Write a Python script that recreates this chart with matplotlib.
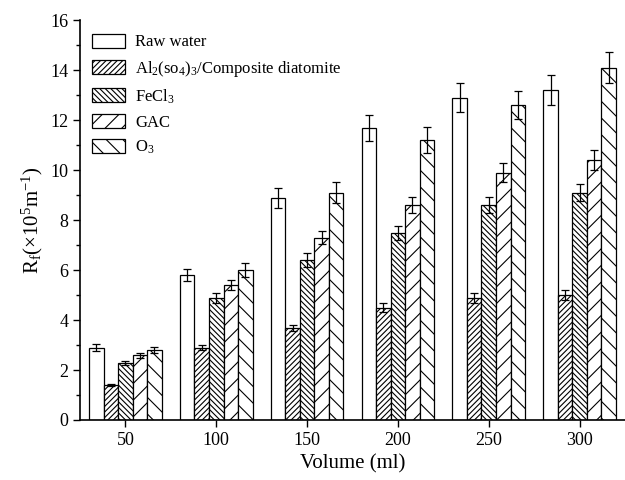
import numpy as np
import matplotlib
matplotlib.use('Agg')
import matplotlib.pyplot as plt
from matplotlib.ticker import MultipleLocator

plt.rcParams['font.family'] = ['Liberation Serif', 'DejaVu Serif']
plt.rcParams['mathtext.fontset'] = 'custom'
plt.rcParams['mathtext.rm'] = 'Liberation Serif'
plt.rcParams['mathtext.it'] = 'Liberation Serif:italic'
plt.rcParams['hatch.linewidth'] = 0.8

volumes = ['50', '100', '150', '200', '250', '300']
series = ['Raw water', 'Al$_2$(so$_4$)$_3$/Composite diatomite', 'FeCl$_3$', 'GAC', 'O$_3$']

raw_water = [2.9, 5.8, 8.9, 11.7, 12.9, 13.2]
al_diatomite = [1.4, 2.9, 3.7, 4.5, 4.9, 5.0]
fecl3 = [2.3, 4.9, 6.4, 7.5, 8.6, 9.1]
gac = [2.6, 5.4, 7.3, 8.6, 9.9, 10.4]
o3 = [2.8, 6.0, 9.1, 11.2, 12.6, 14.1]

raw_err = [0.13, 0.25, 0.40, 0.52, 0.58, 0.60]
al_err = [0.05, 0.10, 0.12, 0.17, 0.20, 0.19]
fecl3_err = [0.08, 0.20, 0.28, 0.28, 0.33, 0.35]
gac_err = [0.10, 0.20, 0.27, 0.33, 0.37, 0.40]
o3_err = [0.12, 0.27, 0.42, 0.51, 0.57, 0.63]

values = [raw_water, al_diatomite, fecl3, gac, o3]
errors = [raw_err, al_err, fecl3_err, gac_err, o3_err]
hatches = ['', '//////', '\\\\\\\\\\\\', '//', '\\\\']

fig = plt.figure(figsize=(6.25, 4.8), dpi=100)
ax = fig.add_axes([0.128, 0.125, 0.872, 0.833])

x = np.arange(len(volumes))
width = 0.16
for i, (vals, errs, h, lab) in enumerate(zip(values, errors, hatches, series)):
    ax.bar(x + (i - 2) * width, vals, width, yerr=errs, color='white',
           edgecolor='black', linewidth=0.9, hatch=h, label=lab,
           error_kw=dict(ecolor='black', elinewidth=0.9, capsize=3, capthick=0.9))

ax.set_xlim(-0.5, 5.5)
ax.set_ylim(0, 16)
ax.set_xticks(x)
ax.set_xticklabels(volumes)
ax.yaxis.set_major_locator(MultipleLocator(2))
ax.yaxis.set_minor_locator(MultipleLocator(1))
ax.tick_params(axis='both', which='major', labelsize=13, direction='out', length=5, width=1)
ax.tick_params(axis='y', which='minor', direction='out', length=3, width=1)
ax.spines['top'].set_visible(False)
ax.spines['right'].set_visible(False)
ax.spines['left'].set_linewidth(1.2)
ax.spines['bottom'].set_linewidth(1.2)

ax.set_xlabel('Volume (ml)', fontsize=15)
ax.set_ylabel('R$_{\\mathrm{f}}$(×10$^{5}$m$^{-1}$)', fontsize=15)

ax.legend(loc='upper left', frameon=False, fontsize=12, handlelength=2.0,
          handleheight=0.9, labelspacing=0.5, handletextpad=0.6,
          borderaxespad=0.3, bbox_to_anchor=(0.0, 0.995))

fig.savefig('out.png', dpi=100)
